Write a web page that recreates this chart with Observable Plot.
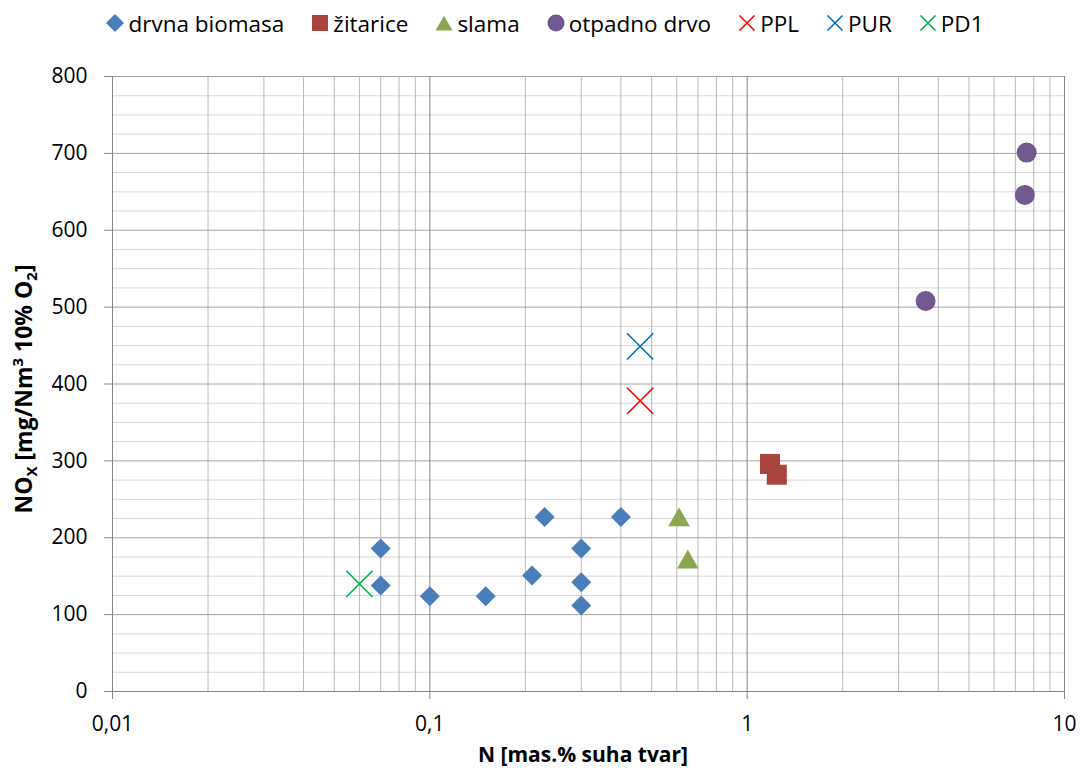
<!DOCTYPE html>
<html>
<head>
<meta charset="utf-8">
<script src="https://cdn.jsdelivr.net/npm/d3@7"></script>
<script src="https://cdn.jsdelivr.net/npm/@observablehq/plot@0.6"></script>
<style>
  body { margin: 0; background: #fff; font-family: "Open Sans", sans-serif; }
  #legend { height: 46px; display: flex; justify-content: center; align-items: center; font-size: 22.5px; color: #000; width: 1083px; padding-left: 6px; box-sizing: border-box; }
  .item { display: flex; align-items: center; margin: 0 13px; white-space: nowrap; }
  .item svg { margin-right: 3px; }
  #chart svg text { white-space: pre; }
</style>
</head>
<body>
<div id="legend"></div>
<div id="chart"></div>
<script>
// ---- series names / colours ----
const seriesNames = ["drvna biomasa", "žitarice", "slama", "otpadno drvo", "PPL", "PUR", "PD1"];
const seriesColors = ["#4A7EBB", "#A9443F", "#8AA64E", "#71588F", "#FF0000", "#0070C0", "#00B050"];

// ---- data: N [mas.% suha tvar] and NOx [mg/Nm3 10% O2] ----
const drvnaN   = [0.07, 0.07, 0.10, 0.15, 0.21, 0.23, 0.30, 0.30, 0.30, 0.40];
const drvnaNOx = [186, 138, 124, 124, 151, 227, 186, 142, 112, 227];
const zitariceN   = [1.18, 1.24];
const zitariceNOx = [296, 282];
const slamaN   = [0.61, 0.65];
const slamaNOx = [227, 172];
const otpadnoN   = [3.65, 7.6, 7.5];
const otpadnoNOx = [508, 701, 646];
const pplN = [0.46];  const pplNOx = [378];
const purN = [0.46];  const purNOx = [449];
const pd1N = [0.06];  const pd1NOx = [140];

// ---- tick values ----
const xTicks = [0.01, 0.1, 1, 10];
const xTickLabels = ["0,01", "0,1", "1", "10"];
const yTicks = [0, 100, 200, 300, 400, 500, 600, 700, 800];
const xMinor = [0.01, 0.1, 1].flatMap(d => [2, 3, 4, 5, 6, 7, 8, 9].map(m => +(m * d).toPrecision(3)));
const yMinor = d3.range(25, 800, 25).filter(v => v % 100 !== 0);

const symX = d3.symbolTimes || d3.symbolX;

const plot = Plot.plot({
  width: 1083,
  height: 732,
  marginTop: 30,
  marginBottom: 87,
  marginLeft: 112,
  marginRight: 19,
  x: { type: "log", domain: [0.01, 10] },
  y: { domain: [0, 800] },
  style: { fontFamily: "Open Sans", fontSize: "21px", color: "#000", background: "#fff" },
  marks: [
    Plot.ruleY(yMinor, { stroke: "#d6d6d6" }),
    Plot.ruleX(xMinor, { stroke: "#b8b8b8" }),
    Plot.ruleY(yTicks, { stroke: "#a2a2a2" }),
    Plot.ruleX(xTicks, { stroke: "#848484" }),
    Plot.ruleY([0], { stroke: "#868686" }),
    Plot.ruleX([0.01], { stroke: "#868686" }),
    Plot.axisX({ ticks: xTicks, tickFormat: d => xTickLabels[xTicks.indexOf(d)], tickSize: 8, tickPadding: 17,
                 stroke: "#868686", fill: "#000", label: null, fontSize: 21 }),
    Plot.axisY({ ticks: yTicks, tickFormat: d => String(d), tickSize: 8, tickPadding: 17,
                 stroke: "#868686", fill: "#000", label: null, fontSize: 21 }),
    Plot.dot(drvnaN, { x: drvnaN, y: drvnaNOx, symbol: "diamond2", r: 9, fill: seriesColors[0], stroke: "none" }),
    Plot.dot(zitariceN, { x: zitariceN, y: zitariceNOx, symbol: "square", r: 11.3, fill: seriesColors[1], stroke: "none" }),
    Plot.dot(slamaN, { x: slamaN, y: slamaNOx, symbol: "triangle", r: 8, dy: 3, fill: seriesColors[2], stroke: "none" }),
    Plot.dot(otpadnoN, { x: otpadnoN, y: otpadnoNOx, symbol: "circle", r: 10, fill: seriesColors[3], stroke: "none" }),
    Plot.dot(pplN, { x: pplN, y: pplNOx, symbol: "times", r: 12, fill: "none", stroke: seriesColors[4], strokeWidth: 1.6 }),
    Plot.dot(purN, { x: purN, y: purNOx, symbol: "times", r: 12, fill: "none", stroke: seriesColors[5], strokeWidth: 1.6 }),
    Plot.dot(pd1N, { x: pd1N, y: pd1NOx, symbol: "times", r: 12, fill: "none", stroke: seriesColors[6], strokeWidth: 1.6 })
  ]
});

// axis titles
const svg = d3.select(plot);
svg.append("text")
  .attr("x", 583).attr("y", 716)
  .attr("text-anchor", "middle")
  .attr("font-family", "Open Sans").attr("font-weight", "bold").attr("font-size", 21)
  .attr("fill", "#000")
  .text("N [mas.% suha tvar]");

const yt = svg.append("text")
  .attr("transform", "translate(32,343) rotate(-90)")
  .attr("text-anchor", "middle")
  .attr("font-family", "Open Sans").attr("font-weight", "bold").attr("font-size", 23)
  .attr("fill", "#000");
yt.append("tspan").text("NO");
yt.append("tspan").attr("font-size", 15).attr("dy", 5).text("X");
yt.append("tspan").attr("dy", -5).text(" [mg/Nm");
yt.append("tspan").attr("font-size", 15).attr("dy", -9).text("3");
yt.append("tspan").attr("dy", 9).text(" 10% O");
yt.append("tspan").attr("font-size", 15).attr("dy", 5).text("2");
yt.append("tspan").attr("dy", -5).text("]");

document.getElementById("chart").appendChild(plot);

// legend
const legendSymbols = [
  { type: d3.symbolDiamond2, size: 206, fill: true },
  { type: d3.symbolSquare, size: 256, fill: true },
  { type: d3.symbolTriangle, size: 125, fill: true, dy: 2.5 },
  { type: d3.symbolCircle, size: 227, fill: true },
  { type: symX, size: 150, fill: false },
  { type: symX, size: 150, fill: false },
  { type: symX, size: 150, fill: false }
];
const legend = d3.select("#legend");
seriesNames.forEach((name, i) => {
  const it = legend.append("div").attr("class", "item");
  const s = legendSymbols[i];
  const ms = it.append("svg").attr("width", 20).attr("height", 22);
  ms.append("path")
    .attr("transform", `translate(10,${11 + (s.dy || 0)})`)
    .attr("d", d3.symbol(s.type, s.size)())
    .attr("fill", s.fill ? seriesColors[i] : "none")
    .attr("stroke", s.fill ? "none" : seriesColors[i])
    .attr("stroke-width", s.fill ? 0 : 1.6);
  it.append("span").text(name);
});
</script>
</body>
</html>
